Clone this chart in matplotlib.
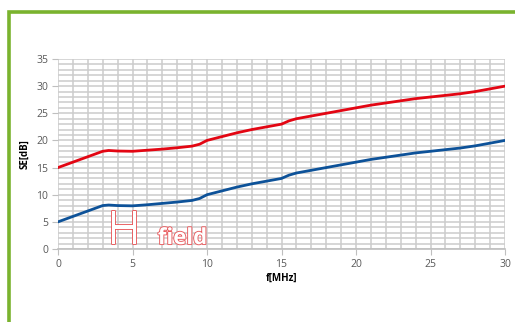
import matplotlib
matplotlib.use('Agg')
import matplotlib.pyplot as plt
import matplotlib.patheffects as pe
from matplotlib.patches import Rectangle

plt.rcParams['font.family'] = ['Open Sans', 'DejaVu Sans']

freq = [0, 1, 2, 3, 3.4, 4, 5, 6, 7, 8, 9, 9.5, 10, 11, 12, 13, 14, 15, 15.5, 16,
        17, 18, 19, 20, 21, 22, 23, 24, 25, 26, 27, 28, 29, 30]
se_red = [15.0, 16.0, 17.0, 18.0, 18.15, 18.05, 18.0, 18.2, 18.4, 18.65, 18.95, 19.3, 20.0, 20.7,
          21.4, 22.0, 22.5, 23.0, 23.6, 24.0, 24.5, 25.0, 25.5, 26.0, 26.5, 26.9, 27.3,
          27.7, 28.0, 28.3, 28.6, 29.0, 29.5, 30.0]
se_blue = [5.0, 6.0, 7.0, 8.0, 8.1, 8.0, 7.95, 8.15, 8.4, 8.65, 8.95, 9.3, 10.0, 10.7,
           11.4, 12.0, 12.5, 13.0, 13.6, 14.0, 14.5, 15.0, 15.5, 16.0, 16.5, 16.9, 17.3,
           17.7, 18.0, 18.3, 18.6, 19.0, 19.5, 20.0]
x_ticks = [0, 5, 10, 15, 20, 25, 30]
y_ticks = [0, 5, 10, 15, 20, 25, 30, 35]

fig = plt.figure(figsize=(5.15, 3.22), dpi=100)
fig.patch.set_facecolor('white')

# green frame, cut off at the right and bottom
fig.patches.append(Rectangle((8.5 / 515, -0.2), 1.2, 1.2 - 12 / 322 + 0.0, transform=fig.transFigure,
                             fill=False, edgecolor='#7ab32e', linewidth=2.6))

ax = fig.add_axes([58 / 515, 1 - 249 / 322, 447 / 515, 190 / 322])
ax.set_xlim(0, 30)
ax.set_ylim(0, 35)

ax.set_xticks(x_ticks)
ax.set_yticks(y_ticks)
ax.set_xticks(range(0, 31), minor=True)
ax.set_yticks(range(0, 36), minor=True)
ax.grid(True, which='both', color='#cccccc', linewidth=1.1)
ax.set_axisbelow(True)

ax.plot(freq, se_red, color='#e30613', linewidth=2, zorder=3)
ax.plot(freq, se_blue, color='#0d5299', linewidth=2, zorder=3)

for s in ['top', 'right']:
    ax.spines[s].set_visible(False)
ax.spines['left'].set_visible(False)
ax.spines['bottom'].set_color('#bfbfbf')
ax.spines['bottom'].set_linewidth(1.2)
ax.tick_params(axis='x', which='major', length=4, color='#bfbfbf', labelsize=7.5,
               labelcolor='#595959', pad=3)
ax.tick_params(axis='y', which='major', length=4, color='#bfbfbf', labelsize=7.5,
               labelcolor='#595959', pad=3)
ax.tick_params(which='minor', length=0)

ax.set_xlabel('f[MHz]', fontsize=7, fontweight='bold', labelpad=2)
ax.set_ylabel('SE[dB]', fontsize=7, fontweight='bold', labelpad=4)

outline = [pe.withStroke(linewidth=1.3, foreground='#e8595c')]
ax.text(3.3, 0.9, 'H', fontsize=33, color='white', path_effects=outline,
        ha='left', va='baseline', zorder=4)
ax.text(6.7, 0.9, 'field', fontsize=16, fontweight='bold', color='white',
        path_effects=outline, ha='left', va='baseline', zorder=4)

fig.savefig('out.png', dpi=100)
